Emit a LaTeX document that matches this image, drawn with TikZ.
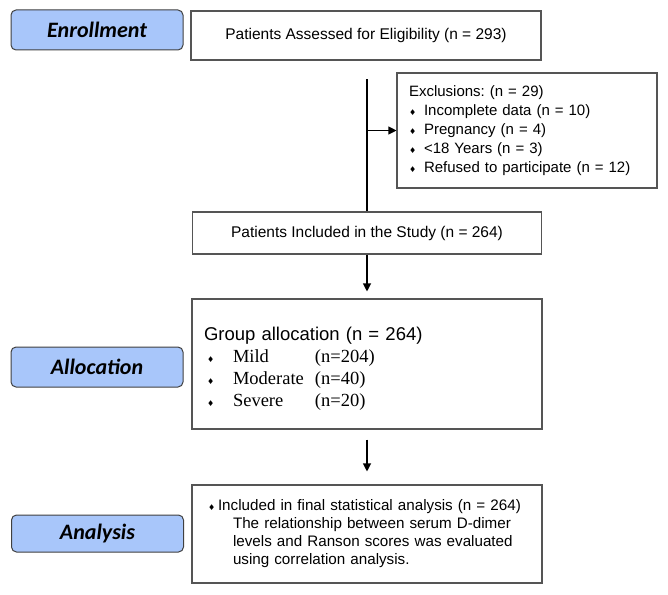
\documentclass[tikz,border=0pt]{standalone}
\usepackage{fontspec}
\setmainfont{Liberation Sans}
\newfontfamily\serifb{Liberation Serif}
\newfontfamily\lab{Carlito}
\newfontfamily\sym{DejaVu Sans}
\usetikzlibrary{arrows.meta}
\frenchspacing
\definecolor{labfill}{RGB}{168,198,250}
\definecolor{boxline}{RGB}{85,85,85}
\newcommand{\dia}{{\sym\fontsize{8}{8}\selectfont\char"2666}}
\begin{document}
\begin{tikzpicture}[x=1pt,y=-1pt,
  labbox/.style={draw=black!75, fill=labfill, rounded corners=5pt, line width=1pt,
    font=\lab\fontsize{22}{24}\selectfont\bfseries\itshape, inner sep=0pt,
    minimum width=172pt},
  flowbox/.style={draw=boxline, line width=1.1pt, inner sep=0pt},
  conn/.style={line width=1.1pt, draw=black},
  arr/.style={conn, -{Triangle[length=8pt,width=8pt]}}]
\useasboundingbox (0,0) rectangle (668,594);

% stage labels
\node[labbox, minimum height=40pt] (enr) at (97,30) {Enrollment};
\node[labbox, minimum height=40pt] (alloc) at (97,367) {Allocation};
\node[labbox, minimum height=37pt] (anal) at (97.5,533.5) {Analysis};

% flow boxes
\node[flowbox, minimum width=350pt, minimum height=49pt,
  font=\fontsize{15.5}{18}\selectfont] (assess) at (366,35.5)
  {Patients Assessed for Eligibility (n = 293)};

\node[flowbox, minimum width=260pt, minimum height=115pt, align=left,
  text width=236pt, inner xsep=12pt, font=\fontsize{15}{19}\selectfont] (excl) at (527,130.5)
  {Exclusions: (n = 29)\\
   \makebox[15pt][l]{\dia}Incomplete data (n = 10)\\
   \makebox[15pt][l]{\dia}Pregnancy (n = 4)\\
   \makebox[15pt][l]{\dia}<18 Years (n = 3)\\
   \makebox[15pt][l]{\dia}Refused to participate (n = 12)};

\node[flowbox, minimum width=349pt, minimum height=42pt,
  font=\fontsize{15.5}{18}\selectfont] (incl) at (367,233)
  {Patients Included in the Study (n = 264)};

\node[flowbox, minimum width=350pt, minimum height=130pt, align=left,
  text width=326pt, inner xsep=12pt, font=\serifb\fontsize{18.5}{22}\selectfont] (group) at (367,364)
  {{\rmfamily\fontsize{18.5}{22}\selectfont\rule{0pt}{22pt}Group allocation (n = 264)}\\
   \hspace*{3pt}\makebox[26pt][l]{\dia}\makebox[82pt][l]{Mild}(n=204)\\
   \hspace*{3pt}\makebox[26pt][l]{\dia}\makebox[82pt][l]{Moderate}(n=40)\\
   \hspace*{3pt}\makebox[26pt][l]{\dia}\makebox[82pt][l]{Severe}(n=20)};

\node[flowbox, minimum width=350pt, minimum height=98pt, align=left,
  text width=334pt, inner xsep=8pt, font=\fontsize{15.2}{18}\selectfont] (final) at (367,534)
  {\hspace*{8pt}\makebox[10pt][l]{\dia}Included in final statistical analysis (n = 264)\\
   \hspace*{33pt}The relationship between serum D-dimer\\
   \hspace*{33pt}levels and Ranson scores was evaluated\\
   \hspace*{33pt}using correlation analysis.};

% connectors
\coordinate (top) at (367,79);
\coordinate (split) at (367,130.5);
\draw[conn] (top) -- (incl.north);
\draw[arr] (split) -- (excl.west);
\draw[arr, shorten >=7pt] (incl.south) -- (group.north);
\draw[arr, shorten <=10pt, shorten >=13pt] (group.south) -- (final.north);
\end{tikzpicture}
\end{document}
